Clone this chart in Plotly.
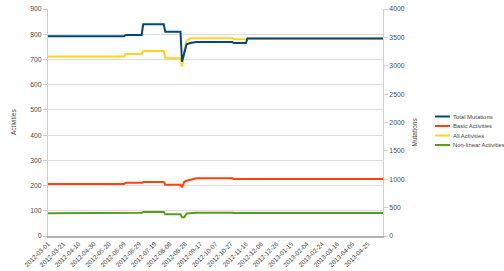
import plotly.graph_objects as go

dates = ["2012-03-01", "2012-06-09", "2012-06-11", "2012-07-02", "2012-07-04",
         "2012-07-31", "2012-08-02", "2012-08-22", "2012-08-24", "2012-08-27",
         "2012-08-30", "2012-09-04", "2012-09-12", "2012-10-29", "2012-10-31",
         "2012-11-16", "2012-11-18", "2013-05-15"]

total_mutations = [3520, 3520, 3542, 3542, 3730, 3730, 3600, 3600, 3070, 3250,
                   3380, 3400, 3420, 3420, 3400, 3400, 3480, 3480]
basic_activities = [206, 206, 211, 211, 214, 214, 203, 203, 193, 215,
                    219, 224, 229, 229, 226, 226, 226, 226]
all_activities = [712, 712, 722, 722, 733, 733, 705, 705, 672, 735,
                  775, 784, 784, 784, 780, 780, 783, 783]
nonlinear_activities = [90, 90, 92, 92, 95, 95, 86, 86, 74, 74,
                        89, 91, 92, 92, 91, 91, 91, 91]

series_names = ["Total Mutations", "Basic Activities", "All Activities", "Non-linear Activities"]
series_colors = ["#004586", "#ff420e", "#ffd320", "#579d1c"]

tick_dates = ["2012-03-01", "2012-03-21", "2012-04-10", "2012-04-30", "2012-05-20",
              "2012-06-09", "2012-06-29", "2012-07-19", "2012-08-08", "2012-08-28",
              "2012-09-17", "2012-10-07", "2012-10-27", "2012-11-16", "2012-12-06",
              "2012-12-26", "2013-01-15", "2013-02-04", "2013-02-24", "2013-03-16",
              "2013-04-05", "2013-04-25"]

W, H = 504, 271
L, R, T, B = 48, 121, 9, 35

fig = go.Figure()
values = [total_mutations, basic_activities, all_activities, nonlinear_activities]
axes = ["y2", "y", "y", "y"]
for i in [1, 3, 0, 2]:
    fig.add_trace(go.Scatter(x=dates, y=values[i], mode="lines", name=series_names[i],
                             yaxis=axes[i], line=dict(color=series_colors[i], width=2),
                             showlegend=False))

ff = "Liberation Sans, Arial, sans-serif"
font = dict(family=ff, size=7, color="#444444")
tick_font = dict(family=ff, size=6.8, color="#4a4a4a")

fig.update_layout(
    width=W, height=H,
    margin=dict(l=L, r=R, t=T, b=B, autoexpand=False),
    paper_bgcolor="white", plot_bgcolor="white",
    font=font,
    xaxis=dict(type="date", range=["2012-03-01", "2013-05-15"], automargin=False,
               tickvals=tick_dates, ticktext=tick_dates, tickangle=-45,
               tickfont=dict(family=ff, size=6.4, color="#4a4a4a"),
               showgrid=False, showline=True, linecolor="#b3b3b3", linewidth=1.5,
               ticks="", zeroline=False),
    yaxis=dict(range=[0, 900], dtick=100, showgrid=True, gridcolor="#dddddd",
               gridwidth=1, showline=True, linecolor="#d0d0d0", ticks="outside",
               ticklen=4, tickcolor="#d0d0d0", zeroline=False, automargin=False,
               tickfont=tick_font),
    yaxis2=dict(range=[0, 4000], dtick=500, overlaying="y", side="right",
                showgrid=False, showline=True, linecolor="#d0d0d0", ticks="outside",
                ticklen=4, tickcolor="#d0d0d0", zeroline=False, automargin=False,
                tickfont=tick_font),
)

pw, ph = W - L - R, H - T - B

fig.add_annotation(text="Activities", xref="paper", yref="paper",
                   x=(8 - L) / pw, y=0.5, textangle=-90, showarrow=False,
                   font=dict(size=6.5, color="#444444"))
fig.add_annotation(text="Mutations", xref="paper", yref="paper",
                   x=(419 - L) / pw, y=(H - B - 132) / ph,
                   textangle=-90, showarrow=False,
                   font=dict(size=6.5, color="#444444"))

leg_y0 = 116.5
for k, (name, col) in enumerate(zip(series_names, series_colors)):
    yy = leg_y0 + k * 9.5
    yp = (H - B - yy) / ph
    fig.add_shape(type="line", xref="paper", yref="paper",
                  x0=(435 - L) / pw, x1=(450 - L) / pw, y0=yp, y1=yp,
                  line=dict(color=col, width=2))
    fig.add_annotation(text=name, xref="paper", yref="paper",
                       x=(451 - L) / pw, y=yp, xanchor="left", yanchor="middle",
                       showarrow=False, font=dict(size=5.9, color="#444444"))

fig.write_html("out.html")
